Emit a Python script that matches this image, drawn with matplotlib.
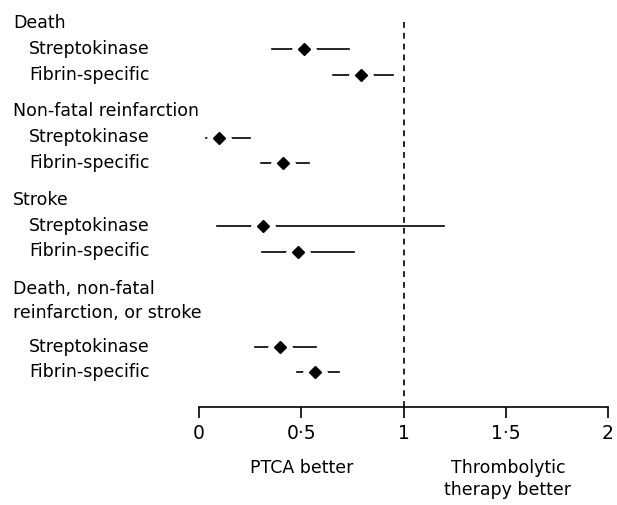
import matplotlib
matplotlib.use("Agg")
import matplotlib.pyplot as plt
import matplotlib.transforms as mtransforms

plt.rcParams['font.family'] = ['DejaVu Sans']

# data: odds ratio estimates with 95% CI
groups = ["Death", "Non-fatal reinfarction", "Stroke", "Death, non-fatal\nreinfarction, or stroke"]
agents = ["Streptokinase", "Fibrin-specific"]
est = [[0.515, 0.792], [0.099, 0.412], [0.315, 0.483], [0.396, 0.569]]
lo = [[0.355, 0.654], [0.034, 0.303], [0.087, 0.310], [0.274, 0.480]]
hi = [[0.733, 0.947], [0.249, 0.538], [1.200, 0.758], [0.572, 0.685]]
xticks = [0, 0.5, 1, 1.5, 2]
xticklabels = ["0", "0\u00b75", "1", "1\u00b75", "2"]

W, H = 617, 505
fig = plt.figure(figsize=(W / 100, H / 100), dpi=100)
ax = fig.add_axes([199 / W, 98 / H, 409 / W, 407 / H])
ax.set_xlim(0, 2)
ax.set_ylim(407, 0)  # y in pixel rows from top

trans = mtransforms.blended_transform_factory(fig.transFigure, ax.transData)
fs = 12.5

y = 23
for g, name in enumerate(groups):
    lines = name.split("\n")
    for k, line in enumerate(lines):
        ax.text(13 / W, y, line, transform=trans, fontsize=fs, va="center", ha="left")
        if k < len(lines) - 1:
            y += 25
    y += 26 if len(lines) == 1 else 33
    for a, agent in enumerate(agents):
        ax.text(29 / W, y, agent, transform=trans, fontsize=fs, va="center", ha="left")
        ax.plot([lo[g][a], hi[g][a]], [y, y], color="black", lw=1.2, zorder=2)
        ax.plot(est[g][a], y, marker="D", color="white", markersize=12, zorder=3)
        ax.plot(est[g][a], y, marker="D", color="black", markersize=6, zorder=4)
        if a < len(agents) - 1:
            y += 25.5
    y += 37

ax.axvline(1, ymin=0, ymax=1 - 18 / 407, color="black", lw=1.2, ls=(0, (3.5, 3)), zorder=1)

for s in ["top", "right", "left"]:
    ax.spines[s].set_visible(False)
ax.spines["bottom"].set_linewidth(1.2)
ax.set_yticks([])
ax.set_xticks(xticks)
ax.set_xticklabels(xticklabels, fontsize=13.5)
ax.tick_params(axis="x", length=8, width=1.2, pad=4)

fig.text(302 / W, 1 - 468 / H, "PTCA better", ha="center", va="center", fontsize=fs)
fig.text(508 / W, 1 - 479 / H, "Thrombolytic\ntherapy better", ha="center", va="center",
         fontsize=fs, linespacing=1.35)

fig.savefig("out.png", dpi=100)
